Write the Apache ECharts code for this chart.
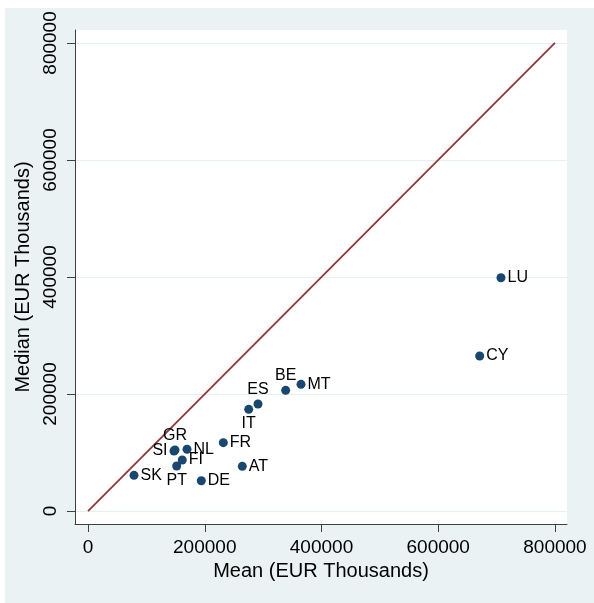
<!DOCTYPE html>
<html>
<head>
<meta charset="utf-8">
<script src="https://cdn.jsdelivr.net/npm/echarts@6/dist/echarts.min.js"></script>
<style>
  html, body { margin: 0; padding: 0; background: #ffffff; }
  #chart { position: absolute; left: 5px; top: 8px; width: 589px; height: 595px; }
</style>
</head>
<body>
<div id="chart"></div>
<script>
// ---- data (EUR thousands) ----
const countries = ['SK', 'SI', 'GR', 'NL', 'FI', 'PT', 'DE', 'FR', 'AT', 'IT', 'ES', 'BE', 'MT', 'CY', 'LU'];
const means     = [78800, 147300, 149000, 169600, 161500, 151900, 194100, 231800, 264300, 275300, 291200, 338600, 364900, 671000, 707500];
const medians   = [61000, 102600, 104300, 105500, 87200, 76900, 51800, 116800, 76400, 173800, 182900, 206300, 216500, 265000, 398800];
const refLineX  = [0, 800000];
const refLineY  = [0, 800000];
const tickValues = [0, 200000, 400000, 600000, 800000];

// label placement (style)
const labelPos = { SI: 'left', GR: 'top', PT: 'bottom', IT: 'bottom', ES: 'top', BE: 'top' };

const FONT = '"Liberation Sans", Arial, sans-serif';
const chart = echarts.init(document.getElementById('chart'));

const scatterData = countries.map((c, i) => ({
  name: c,
  value: [means[i], medians[i]],
  label: { position: labelPos[c] || 'right' }
}));

chart.setOption({
  backgroundColor: '#EAF2F3',
  animation: false,
  grid: { left: 70, top: 22, right: 27, bottom: 79, backgroundColor: '#ffffff', show: true, borderWidth: 0 },
  xAxis: {
    type: 'value',
    min: -22300, max: 820600,
    name: 'Mean (EUR Thousands)',
    nameLocation: 'middle',
    nameGap: 36,
    nameTextStyle: { fontFamily: FONT, fontSize: 20, color: '#000' },
    axisLine: { show: true, onZero: false, lineStyle: { color: '#404040', width: 1 } },
    axisTick: { show: true, length: 8, customValues: tickValues, lineStyle: { color: '#404040' } },
    axisLabel: { customValues: tickValues, margin: 14, fontFamily: FONT, fontSize: 19, color: '#000', formatter: v => String(v) },
    splitLine: { show: false }
  },
  yAxis: {
    type: 'value',
    min: -22200, max: 822200,
    name: 'Median (EUR Thousands)',
    nameLocation: 'middle',
    nameRotate: 90,
    nameGap: 33,
    nameTextStyle: { fontFamily: FONT, fontSize: 20, color: '#000' },
    axisLine: { show: true, onZero: false, lineStyle: { color: '#404040', width: 1 } },
    axisTick: { show: true, length: 8, customValues: tickValues, lineStyle: { color: '#404040' } },
    axisLabel: { customValues: tickValues, rotate: 90, margin: 15, fontFamily: FONT, fontSize: 19, color: '#000', formatter: v => String(v) },
    splitLine: { show: true, lineStyle: { color: '#E6EFF1', width: 1.2 } }
  },
  series: [
    {
      type: 'line',
      data: refLineX.map((x, i) => [x, refLineY[i]]),
      symbol: 'none',
      lineStyle: { color: '#90353B', width: 1.8 },
      silent: true,
      z: 2
    },
    {
      type: 'scatter',
      data: scatterData,
      symbolSize: 9,
      itemStyle: { color: '#1A476F', opacity: 1 },
      label: {
        show: true,
        formatter: p => p.name,
        distance: 2,
        fontFamily: FONT,
        fontSize: 16,
        color: '#000'
      },
      z: 3
    }
  ]
});
</script>
</body>
</html>
